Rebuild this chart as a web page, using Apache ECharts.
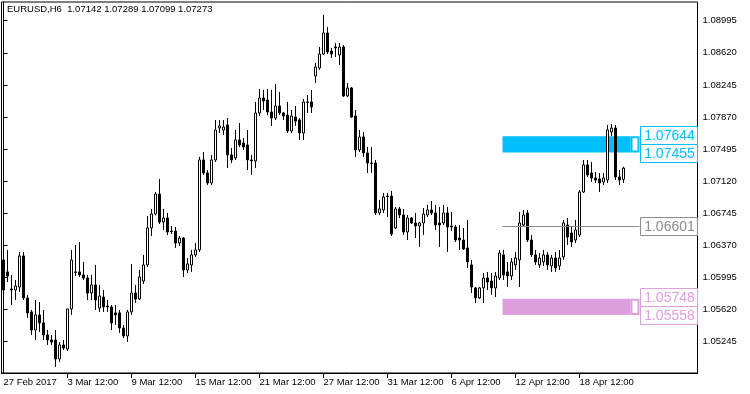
<!DOCTYPE html>
<html><head><meta charset="utf-8">
<script src="https://cdn.jsdelivr.net/npm/echarts@6/dist/echarts.min.js"></script>
<style>html,body{margin:0;padding:0;background:#fff}#c{width:750px;height:394px}</style>
</head><body><div id="c"></div>
<script>
const headerText = 'EURUSD,H6  1.07142 1.07289 1.07099 1.07273';

const opens = [
1.06200,1.06060,1.05861,1.05849,1.05884,1.06247,1.05756,1.05593,1.05382,1.05558,
1.05464,1.05324,1.05265,1.05265,1.05043,1.05207,1.05160,1.05628,1.06060,1.06060,
1.06025,1.05989,1.05814,1.05908,1.05639,1.05767,1.05662,1.05651,1.05581,1.05581,
1.05405,1.05312,1.05593,1.05814,1.05744,1.05954,1.06142,1.06574,1.06737,1.06970,
1.06644,1.06690,1.06538,1.06538,1.06398,1.06456,1.06083,1.06142,1.06259,1.06317,
1.07368,1.07216,1.07099,1.07368,1.07741,1.07718,1.07777,1.07427,1.07392,1.07602,
1.07567,1.07543,1.07368,1.07357,1.07917,1.08092,1.08069,1.07929,1.07858,1.07999,
1.07917,1.07893,1.07707,1.07870,1.07835,1.07683,1.08046,1.08046,1.08349,1.08443,
1.08606,1.08852,1.08641,1.08688,1.08594,1.08688,1.08116,1.08209,1.07882,1.07485,
1.07637,1.07450,1.07333,1.07333,1.06749,1.06784,1.06947,1.06947,1.06574,1.06796,
1.06726,1.06527,1.06690,1.06632,1.06597,1.06632,1.06726,1.06784,1.06749,1.06632,
1.06632,1.06749,1.06597,1.06585,1.06456,1.06433,1.06340,1.06142,1.05873,1.05756,
1.05873,1.05989,1.05954,1.05873,1.05989,1.06259,1.06060,1.06013,1.06142,1.06200,
1.06609,1.06749,1.06433,1.06259,1.06142,1.06177,1.06259,1.06130,1.06223,1.06130,
1.06235,1.06609,1.06515,1.06433,1.06492,1.06994,1.07310,1.07216,1.07158,1.07146,
1.07111,1.07134,1.07695,1.07741,1.07170,1.07142];

const closes = [
1.05849,1.06013,1.05849,1.05896,1.06247,1.05756,1.05581,1.05382,1.05558,1.05464,
1.05324,1.05265,1.05242,1.05043,1.05207,1.05171,1.05628,1.06200,1.06055,1.06025,
1.05989,1.05814,1.05908,1.05732,1.05779,1.05651,1.05651,1.05464,1.05558,1.05405,
1.05312,1.05593,1.05814,1.05744,1.06001,1.06142,1.06574,1.06737,1.06970,1.06644,
1.06690,1.06527,1.06532,1.06398,1.06456,1.06083,1.06153,1.06259,1.06317,1.07368,
1.07216,1.07099,1.07368,1.07718,1.07765,1.07753,1.07427,1.07368,1.07602,1.07543,
1.07520,1.07368,1.07357,1.07917,1.08092,1.08057,1.07929,1.07858,1.07999,1.07917,
1.07882,1.07707,1.07882,1.07823,1.07683,1.08046,1.08040,1.07987,1.08454,1.08606,
1.08852,1.08630,1.08606,1.08676,1.08688,1.08116,1.08209,1.07870,1.07485,1.07637,
1.07450,1.07333,1.07327,1.06749,1.06796,1.06936,1.06942,1.06503,1.06796,1.06726,
1.06527,1.06690,1.06632,1.06597,1.06632,1.06737,1.06784,1.06749,1.06609,1.06609,
1.06749,1.06585,1.06585,1.06433,1.06433,1.06328,1.06177,1.05884,1.05756,1.05873,
1.05989,1.05943,1.05873,1.06013,1.06282,1.06025,1.06013,1.06177,1.06223,1.06632,
1.06726,1.06433,1.06259,1.06177,1.06223,1.06259,1.06142,1.06223,1.06106,1.06223,
1.06632,1.06468,1.06410,1.06550,1.06994,1.07310,1.07193,1.07158,1.07134,1.07099,
1.07158,1.07718,1.07741,1.07170,1.07134,1.07273];

const lows = [
1.05826,1.05943,1.05674,1.05732,1.05826,1.05732,1.05523,1.05324,1.05265,1.05359,
1.05265,1.05207,1.05207,1.04950,1.05009,1.05148,1.05137,1.05558,1.06013,1.06001,
1.05966,1.05732,1.05732,1.05616,1.05593,1.05593,1.05593,1.05382,1.05441,1.05347,
1.05289,1.05242,1.05558,1.05697,1.05732,1.05919,1.06118,1.06480,1.06720,1.06620,
1.06550,1.06492,1.06503,1.06340,1.06363,1.06001,1.06048,1.06060,1.06235,1.06294,
1.07193,1.07076,1.07076,1.07345,1.07683,1.07660,1.07275,1.07333,1.07368,1.07520,
1.07485,1.07251,1.07193,1.07275,1.07882,1.07952,1.07893,1.07765,1.07835,1.07893,
1.07835,1.07683,1.07683,1.07765,1.07602,1.07602,1.07917,1.07917,1.08267,1.08419,
1.08594,1.08606,1.08559,1.08571,1.08478,1.08104,1.08104,1.07858,1.07403,1.07461,
1.07403,1.07216,1.07216,1.06726,1.06726,1.06749,1.06702,1.06480,1.06560,1.06690,
1.06492,1.06433,1.06620,1.06456,1.06352,1.06492,1.06702,1.06726,1.06550,1.06352,
1.06609,1.06294,1.06538,1.06410,1.06317,1.06317,1.06106,1.05814,1.05697,1.05744,
1.05697,1.05849,1.05791,1.05767,1.05966,1.05966,1.05884,1.05966,1.06083,1.05884,
1.06585,1.06410,1.06235,1.06142,1.06106,1.06130,1.06083,1.06060,1.06060,1.06083,
1.06200,1.06375,1.06352,1.06398,1.06468,1.06983,1.07170,1.07111,1.07099,1.06994,
1.07076,1.07099,1.07648,1.07134,1.07076,1.07099];

const highs = [
1.06247,1.06317,1.06025,1.05966,1.06294,1.06294,1.05791,1.05616,1.05732,1.05709,
1.05616,1.05382,1.05324,1.05382,1.05242,1.05265,1.05628,1.06317,1.06375,1.06410,
1.06177,1.06025,1.06025,1.06142,1.05908,1.05849,1.05732,1.05674,1.05674,1.05616,
1.05441,1.05616,1.06153,1.05908,1.06083,1.06259,1.06714,1.06796,1.06994,1.07146,
1.06796,1.06749,1.06597,1.06585,1.06480,1.06468,1.06223,1.06317,1.06398,1.07403,
1.07461,1.07251,1.07427,1.07835,1.07835,1.07835,1.07858,1.07508,1.07718,1.07800,
1.07625,1.07718,1.07427,1.08046,1.08198,1.08186,1.08198,1.08186,1.08256,1.08163,
1.07929,1.08046,1.07952,1.07999,1.07858,1.08081,1.08127,1.08186,1.08501,1.08688,
1.09062,1.08922,1.08676,1.08735,1.08735,1.08711,1.08267,1.08221,1.07952,1.07718,
1.07695,1.07520,1.07520,1.07368,1.06901,1.06983,1.06983,1.07006,1.06819,1.06819,
1.06796,1.06726,1.06702,1.06749,1.06644,1.06807,1.06843,1.06889,1.06843,1.06819,
1.06843,1.06819,1.06761,1.06609,1.06609,1.06574,1.06667,1.06200,1.05884,1.05885,
1.06048,1.06060,1.06048,1.06060,1.06317,1.06317,1.06177,1.06223,1.06294,1.06761,
1.06784,1.06784,1.06492,1.06317,1.06282,1.06317,1.06294,1.06259,1.06294,1.06317,
1.06667,1.06690,1.06585,1.06667,1.07017,1.07368,1.07368,1.07345,1.07228,1.07216,
1.07216,1.07777,1.07788,1.07777,1.07251,1.07289];

const slotCount = 174;
const xLabelIdx = [0, 16, 32, 48, 64, 80, 96, 112, 128, 144];
const xLabels = ['27 Feb 2017', '3 Mar 12:00', '9 Mar 12:00', '15 Mar 12:00', '21 Mar 12:00',
  '27 Mar 12:00', '31 Mar 12:00', '6 Apr 12:00', '12 Apr 12:00', '18 Apr 12:00'];
const yTicks = [1.05245, 1.05620, 1.05995, 1.06370, 1.06745, 1.07120, 1.07495, 1.07870, 1.08245, 1.08620, 1.08995];
const yMin = 1.048793, yMax = 1.092135;

const zoneTops = [1.07644, 1.05748];
const zoneBottoms = [1.07455, 1.05558];
const zoneFrom = 124.75, zoneTo = 156.75, notchTo = 159;
const levelPrice = 1.06601;

const zoneColors = ['#00BFFF', '#DDA0DD'];
const levelColor = '#8c8c8c';

const chart = echarts.init(document.getElementById('c'), null, {renderer: 'canvas'});
const categories = [];
for (let i = 0; i < slotCount; i++) categories.push(String(i));
const candleData = opens.map((o, i) => [o, closes[i], lows[i], highs[i]]);

const fontFam = 'Liberation Sans, Arial, sans-serif';

function zoneRender(params, api) {
  const i = params.dataIndex;
  const top = api.value(2), bot = api.value(3);
  const p1 = api.coord([api.value(0), top]);
  const p2 = api.coord([api.value(1), bot]);
  const p3 = api.coord([notchTo, bot]);
  const col = zoneColors[i];
  return {type: 'group', children: [
    {type: 'rect', shape: {x: p1[0], y: p1[1], width: p2[0] - p1[0], height: p2[1] - p1[1]},
     style: {fill: col}},
    {type: 'rect', shape: {x: p2[0] + 1, y: p1[1] + 1, width: p3[0] - p2[0] - 2, height: p2[1] - p1[1] - 2},
     style: {fill: '#fff', stroke: col, lineWidth: 2}}
  ]};
}

function boxItem(cs, yc, text, col) {
  const right = Math.round(cs.x + cs.width);
  const left = right - 58;
  return [
    {type: 'rect', shape: {x: left + 0.5, y: Math.round(yc - 9) + 0.5, width: 57, height: 18},
     style: {fill: '#fff', stroke: col, lineWidth: 1}, z2: 10},
    {type: 'text', style: {x: left + 29.5, y: Math.round(yc) + 1, text: text, fill: col,
      font: '14px ' + fontFam, textAlign: 'center', textVerticalAlign: 'middle'}, z2: 11}
  ];
}

function labelRender(params, api) {
  const cs = params.coordSys;
  const kind = api.value(0);
  const children = [];
  if (kind === 0) {
    const yb = api.coord([0, api.value(2)])[1];
    children.push(...boxItem(cs, yb - 18, api.value(1).toFixed(5), zoneColors[params.dataIndex]));
    children.push(...boxItem(cs, yb, api.value(2).toFixed(5), zoneColors[params.dataIndex]));
  } else {
    const y = api.coord([0, api.value(1)])[1];
    const p0 = api.coord([zoneFrom, api.value(1)]);
    const p1 = api.coord([notchTo, api.value(1)]);
    const yy = Math.round(y) + 0.5;
    children.push({type: 'line', shape: {x1: p0[0], y1: yy, x2: p1[0], y2: yy},
      style: {stroke: levelColor, lineWidth: 1}});
    children.push(...boxItem(cs, y, api.value(1).toFixed(5), levelColor));
  }
  return {type: 'group', children};
}

const option = {
  animation: false,
  backgroundColor: '#fff',
  grid: {left: 1.5, top: 2, width: 696, height: 371, show: true, borderColor: '#000', borderWidth: 1, backgroundColor: '#fff'},
  graphic: [{type: 'text', left: 7, top: 4, style: {text: headerText, fill: '#000', font: '9.5px ' + fontFam}}],
  xAxis: [
    {type: 'category', data: categories, show: false, boundaryGap: true},
    {type: 'value', min: -0.5, max: slotCount - 0.5, position: 'bottom',
     axisLine: {show: true, lineStyle: {color: '#000', width: 1}},
     axisTick: {show: true, customValues: xLabelIdx.slice(1), length: 5, lineStyle: {color: '#000'}},
     axisLabel: {customValues: xLabelIdx, align: 'left', margin: 4, color: '#000', fontSize: 9.5, fontFamily: fontFam,
       formatter: v => { const j = xLabelIdx.indexOf(Math.round(v)); return j >= 0 ? xLabels[j] : ''; }},
     splitLine: {show: false}}
  ],
  yAxis: [{type: 'value', position: 'right', min: yMin, max: yMax, scale: true,
    axisLine: {show: true, lineStyle: {color: '#000', width: 1}},
    axisTick: {show: true, customValues: yTicks, length: 4, lineStyle: {color: '#000'}},
    axisLabel: {customValues: yTicks, formatter: v => v.toFixed(5), margin: 5, color: '#000', fontSize: 9.5, fontFamily: fontFam},
    splitLine: {show: false}}],
  series: [
    {type: 'custom', xAxisIndex: 1, yAxisIndex: 0, renderItem: zoneRender, z: 1, silent: true,
     data: zoneTops.map((t, i) => [zoneFrom, zoneTo, t, zoneBottoms[i]])},
    {type: 'candlestick', xAxisIndex: 0, yAxisIndex: 0, data: candleData, barWidth: 2, z: 5,
     itemStyle: {color: '#fff', color0: '#000', borderColor: '#000', borderColor0: '#000', borderWidth: 1}},
    {type: 'custom', xAxisIndex: 1, yAxisIndex: 0, renderItem: labelRender, z: 6, silent: true, clip: false,
     data: zoneTops.map((t, i) => [0, t, zoneBottoms[i]]).concat([[1, levelPrice, 0]])}
  ]
};
chart.setOption(option);
</script></body></html>
